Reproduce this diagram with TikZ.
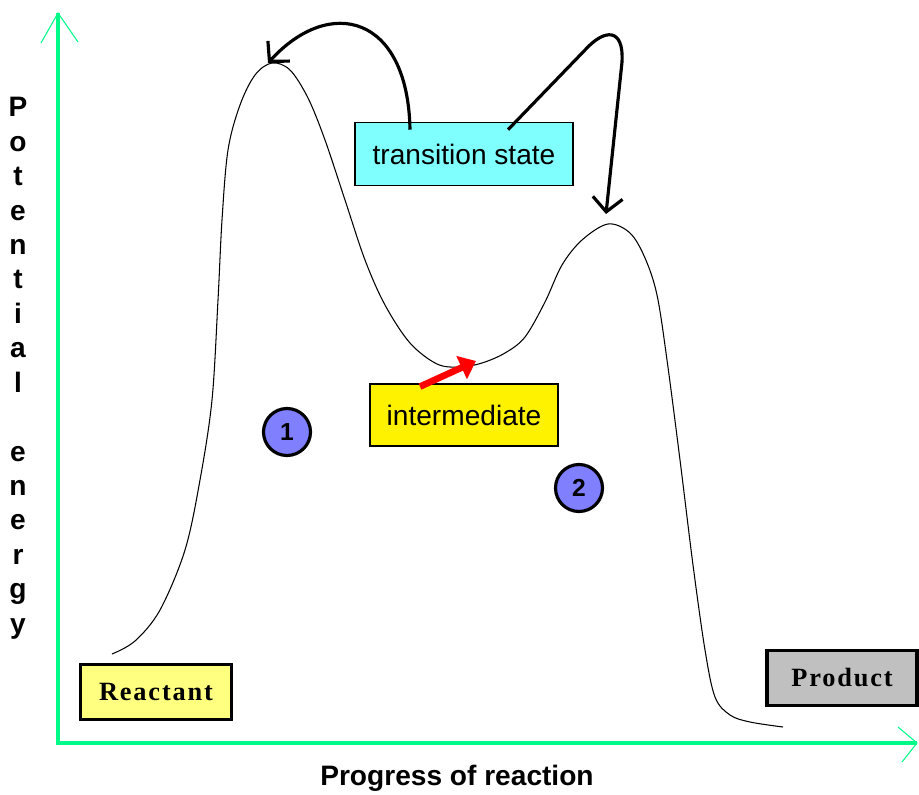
\documentclass[tikz,border=0pt]{standalone}
\usepackage{fontspec}
\setmainfont{Liberation Sans}
\newfontfamily\labelserif[LetterSpace=7]{Liberation Serif}
\usetikzlibrary{arrows.meta}
\definecolor{axisgreen}{RGB}{0,250,136}
\definecolor{tscyan}{RGB}{128,255,255}
\definecolor{paleyellow}{RGB}{255,255,128}
\definecolor{prodgray}{RGB}{192,192,192}
\definecolor{stepblue}{RGB}{128,128,255}
\begin{document}
\begin{tikzpicture}[x=0.02cm,y=-0.02cm,
    axis/.style={axisgreen,line width=2.8pt},
    axistip/.style={axisgreen,line width=0.6pt},
    tag/.style={draw=black,line width=0.9pt,inner sep=0pt,font=\fontsize{16}{18}\selectfont},
    endbox/.style={draw=black,line width=2pt,inner sep=0pt,font=\labelserif\bfseries\fontsize{15}{17}\selectfont},
    stepno/.style={circle,draw=black,line width=1.8pt,fill=stepblue,minimum size=0.94cm,inner sep=0pt,font=\bfseries\fontsize{14}{16}\selectfont},
    pointer/.style={line width=1.8pt,-{Straight Barb[length=8pt,width=17pt]}}]
    \useasboundingbox (0,0) rectangle (919,794);
    % axes
    \coordinate (O) at (58,743);
    \coordinate (ytop) at (58,13);
    \coordinate (xend) at (917,743);
    \draw[axis] (ytop) -- (O) -- (xend);
    \draw[axistip] ([shift={(-17,30)}]ytop) -- (ytop) -- ([shift={(20,29)}]ytop);
    \draw[axistip] ([shift={(-19,-16)}]xend) -- (xend) -- ([shift={(-15,19)}]xend);
    \node[inner sep=0pt,anchor=north,align=center,font=\bfseries\fontsize{16}{19.6}\selectfont] (ylabel) at (18,97)
        {P\\o\\t\\e\\n\\t\\i\\a\\l\\\mbox{}\\e\\n\\e\\r\\g\\y};
    \node[font=\bfseries\fontsize{16}{18}\selectfont] (xlabel) at (457,778) {Progress of reaction};
    % energy curve
    \draw[line width=0.6pt] plot[smooth,tension=0.55] coordinates {(112,654) (135,641) (160,610) (185,550) (200,480)
        (212,400) (218,300) (222,220) (228,150) (240,105) (255,75) (272,63) (290,70) (308,98) (325,140)
        (345,200) (365,260) (385,305) (410,343) (437,364) (460,367) (482,363) (505,353) (525,337)
        (545,302) (562,265) (582,240) (608,224) (630,233) (645,258) (657,295) (667,360) (680,460)
        (693,565) (705,650) (715,697) (730,715) (750,722) (783,727)};
    \coordinate (peakA) at (268,63);
    \coordinate (peakB) at (606,214);
    \coordinate (trough) at (476,361);
    % labels
    \node[tag,fill=tscyan,minimum width=4.36cm,minimum height=1.26cm] (ts) at (464,154) {transition state};
    \node[tag,fill=yellow,line width=1.6pt,minimum width=3.76cm,minimum height=1.24cm] (inter) at (464,415) {intermediate};
    \node[endbox,fill=paleyellow,minimum width=3.02cm,minimum height=1.1cm] (react) at (156,692) {Reactant};
    \node[endbox,fill=prodgray,minimum width=3.0cm,minimum height=1.1cm] (prod) at (842,678) {Product};
    \node[stepno] (one) at (287,432) {1};
    \node[stepno] (two) at (579,488) {2};
    % pointers
    \draw[pointer] ([shift={(-54,8)}]ts.north) .. controls (408,15) and (330,-5) .. (peakA);
    \draw[pointer] ([shift={(44,8)}]ts.north) -- (585,50) .. controls (605,28) and (624,28) .. (622,62) -- (peakB);
    \draw[red,line width=3.8pt,-{Triangle[length=9pt,width=14pt]}] ([shift={(-44,4)}]inter.north) -- (trough);
\end{tikzpicture}
\end{document}
